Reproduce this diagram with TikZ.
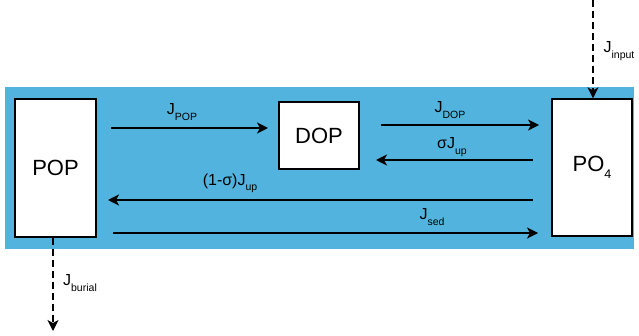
\documentclass[tikz,border=0pt]{standalone}
\usepackage{fontspec}
\setmainfont{Liberation Sans}
\usetikzlibrary{arrows.meta}
\definecolor{seablue}{RGB}{82,180,222}
\newcommand{\lowsub}[1]{\raisebox{-0.33em}{\fontsize{10.5}{10.5}\selectfont #1}}

\begin{document}
\begin{tikzpicture}[x=1pt,y=-1pt, >={Stealth[length=11pt,width=11pt,inset=3pt]},
  pool/.style={draw=black, fill=white, line width=1.3pt, inner sep=0pt, font=\fontsize{22}{22}\selectfont},
  flux/.style={black, line width=1.4pt, ->},
  lost/.style={black, line width=1.4pt, ->, dash pattern=on 7pt off 4pt},
  lab/.style={inner sep=0pt, font=\fontsize{16}{16}\selectfont}]
\useasboundingbox (0,0) rectangle (639,336);
\fill[seablue] (5,87) rectangle (634,249);
% the three pools
\node[pool, minimum width=81pt, minimum height=138pt] (pop) at (55.5,168) {POP};
\node[pool, minimum width=80pt, minimum height=67pt] (dop) at (319,135.5) {DOP};
\node[pool, minimum width=80pt, minimum height=137pt] (po4) at (592,167.5) {PO\raisebox{-0.3em}{\fontsize{12.5}{12.5}\selectfont 4}};
% arrow ends
\coordinate (pa) at (111,128);
\coordinate (pb) at (268,128);
\coordinate (da) at (381,125);
\coordinate (db) at (539,125);
\coordinate (ua) at (533,160);
\coordinate (ub) at (376,160);
\coordinate (va) at (533,200);
\coordinate (vb) at (108,200);
\coordinate (sa) at (113,233);
\coordinate (sb) at (538,233);
\coordinate (in) at (593,0);
\coordinate (bur) at (53,331);
\draw[flux] (pa)--(pb);
\draw[flux] (da)--(db);
\draw[flux] (ua)--(ub);
\draw[flux] (va)--(vb);
\draw[flux] (sa)--(sb);
\draw[lost] (in)--(in |- po4.north);
\draw[lost] (bur |- pop.south)--(bur);
% labels
\node[lab] (jpop) at (182,112) {J\lowsub{POP}};
\node[lab] (jdop) at (450,110) {J\lowsub{DOP}};
\node[lab] (jup) at (452,147) {σJ\lowsub{up}};
\node[lab] (jup2) at (230,183) {(1-σ)J\lowsub{up}};
\node[lab] (jsed) at (432,217) {J\lowsub{sed}};
\node[lab] (jin) at (619,51) {J\lowsub{input}};
\node[lab] (jbur) at (80,283) {J\lowsub{burial}};
\end{tikzpicture}
\end{document}
